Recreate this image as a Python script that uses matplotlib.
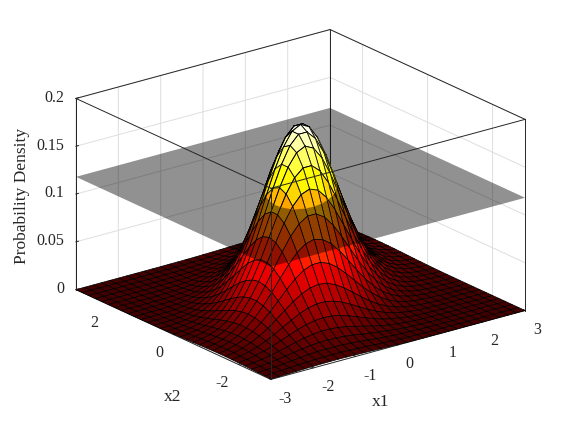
import numpy as np
import matplotlib
matplotlib.use("Agg")
import matplotlib.pyplot as plt
from matplotlib.colors import Normalize
from mpl_toolkits.mplot3d.art3d import Poly3DCollection

plt.rcParams["font.family"] = ["Liberation Serif", "DejaVu Serif"]
plt.rcParams["axes.unicode_minus"] = False

# ---------------------------
# Data
# ---------------------------
x1_grid = [-3, -2.8, -2.6, -2.4, -2.2, -2, -1.8, -1.6, -1.4, -1.2, -1, -0.8, -0.6, -0.4, -0.2, 0,
           0.2, 0.4, 0.6, 0.8, 1, 1.2, 1.4, 1.6, 1.8, 2, 2.2, 2.4, 2.6, 2.8, 3]
x2_grid = list(x1_grid)

# heights for x1 = -3 ... 0 (rows), x2 = -3 ... 3 (columns); the other half is the point mirror
density_half = [
    [.0005, .0007, .0009, .0012, .0015, .0017, .0019, .0020, .0020, .0019, .0017, .0015, .0012, .0009, .0007, .0005, .0003, .0002, .0001, .0001, 0, 0, 0, 0, 0, 0, 0, 0, 0, 0, 0],
    [.0007, .0010, .0014, .0019, .0024, .0029, .0033, .0036, .0036, .0036, .0033, .0029, .0024, .0019, .0014, .0010, .0007, .0004, .0003, .0001, .0001, 0, 0, 0, 0, 0, 0, 0, 0, 0, 0],
    [.0009, .0014, .0020, .0028, .0036, .0045, .0053, .0059, .0062, .0062, .0059, .0053, .0045, .0036, .0028, .0020, .0014, .0009, .0006, .0003, .0002, .0001, 0, 0, 0, 0, 0, 0, 0, 0, 0],
    [.0012, .0019, .0028, .0040, .0053, .0067, .0081, .0093, .0100, .0103, .0100, .0093, .0081, .0067, .0053, .0040, .0028, .0019, .0012, .0007, .0004, .0002, .0001, .0001, 0, 0, 0, 0, 0, 0, 0],
    [.0015, .0024, .0036, .0053, .0073, .0095, .0118, .0138, .0154, .0162, .0162, .0154, .0138, .0118, .0095, .0073, .0053, .0036, .0024, .0015, .0009, .0005, .0003, .0001, .0001, 0, 0, 0, 0, 0, 0],
    [.0017, .0029, .0045, .0067, .0095, .0128, .0162, .0196, .0224, .0242, .0249, .0242, .0224, .0196, .0162, .0128, .0095, .0067, .0045, .0029, .0017, .0010, .0005, .0003, .0001, .0001, 0, 0, 0, 0, 0],
    [.0019, .0033, .0053, .0081, .0118, .0162, .0212, .0262, .0308, .0343, .0361, .0361, .0343, .0308, .0262, .0212, .0162, .0118, .0081, .0053, .0033, .0019, .0011, .0006, .0003, .0001, .0001, 0, 0, 0, 0],
    [.0020, .0036, .0059, .0093, .0138, .0196, .0262, .0334, .0402, .0459, .0497, .0511, .0497, .0459, .0402, .0334, .0262, .0196, .0138, .0093, .0059, .0036, .0020, .0011, .0006, .0003, .0001, .0001, 0, 0, 0],
    [.0020, .0036, .0062, .0100, .0154, .0224, .0308, .0402, .0497, .0584, .0650, .0685, .0685, .0650, .0584, .0497, .0402, .0308, .0224, .0154, .0100, .0062, .0036, .0020, .0011, .0005, .0003, .0001, 0, 0, 0],
    [.0019, .0036, .0062, .0103, .0162, .0242, .0343, .0459, .0584, .0704, .0804, .0871, .0895, .0871, .0804, .0704, .0584, .0459, .0343, .0242, .0162, .0103, .0062, .0036, .0019, .0010, .0005, .0002, .0001, 0, 0],
    [.0017, .0033, .0059, .0100, .0162, .0249, .0361, .0497, .0650, .0804, .0944, .1050, .1107, .1107, .1050, .0944, .0804, .0650, .0497, .0361, .0249, .0162, .0100, .0059, .0033, .0017, .0009, .0004, .0002, .0001, 0],
    [.0015, .0029, .0053, .0093, .0154, .0242, .0361, .0511, .0685, .0871, .1050, .1200, .1300, .1335, .1300, .1200, .1050, .0871, .0685, .0511, .0361, .0242, .0154, .0093, .0053, .0029, .0015, .0007, .0003, .0001, .0001],
    [.0012, .0024, .0045, .0081, .0138, .0224, .0343, .0497, .0685, .0895, .1107, .1300, .1446, .1525, .1525, .1446, .1300, .1107, .0895, .0685, .0497, .0343, .0224, .0138, .0081, .0045, .0024, .0012, .0006, .0003, .0001],
    [.0009, .0019, .0036, .0067, .0118, .0196, .0308, .0459, .0650, .0871, .1107, .1335, .1525, .1652, .1697, .1652, .1525, .1335, .1107, .0871, .0650, .0459, .0308, .0196, .0118, .0067, .0036, .0019, .0009, .0004, .0002],
    [.0007, .0014, .0028, .0053, .0095, .0162, .0262, .0402, .0584, .0804, .1050, .1300, .1525, .1697, .1790, .1790, .1697, .1525, .1300, .1050, .0804, .0584, .0402, .0262, .0162, .0095, .0053, .0028, .0014, .0007, .0003],
    [.0005, .0010, .0020, .0040, .0073, .0128, .0212, .0334, .0497, .0704, .0944, .1200, .1446, .1652, .1790, .1838, .1790, .1652, .1446, .1200, .0944, .0704, .0497, .0334, .0212, .0128, .0073, .0040, .0020, .0010, .0005],
]
plane_level = 0.118

x1_ticks = [-3, -2, -1, 0, 1, 2, 3]
x2_ticks = [-2, 0, 2]
z_ticks = [0, 0.05, 0.1, 0.15, 0.2]
z_tick_labels = ["0", "0.05", "0.1", "0.15", "0.2"]

half = np.array(density_half)
density = np.vstack([half, half[-2::-1, ::-1]])
X1, X2 = np.meshgrid(x1_grid, x2_grid, indexing="ij")

dark = "#262626"
grid_color = "#dedede"
elev, azim = 20.7, 232.5
z_top = 0.2
z_ratio = 0.638

# colores por celda: como en surf, cada celda toma el valor de su primer vertice
norm = Normalize(vmin=-0.018, vmax=density.max())
cmap = plt.get_cmap("hot")
face_colors = cmap(norm(density))

# ---------------------------
# Figure and axes
# ---------------------------
fig = plt.figure(figsize=(5.8, 4.28), dpi=100)
# los ejes son mayores que la figura para que nada quede recortado
ax = fig.add_axes([-7.6 / 580, -84.6 / 428, 600 / 580, 600 / 428], projection="3d",
                  proj_type="ortho", computed_zorder=False)
ax.view_init(elev=elev, azim=azim)
ax.set_box_aspect((1, 1, z_ratio), zoom=0.804)

for axis in (ax.xaxis, ax.yaxis, ax.zaxis):
    axis.set_pane_color((1, 1, 1, 1))
    axis.pane.set_edgecolor("white")
    axis.line.set_color(dark)
    axis.line.set_linewidth(0.7)
    axis._axinfo["grid"].update(color=grid_color, linewidth=0.7)
    axis._axinfo["tick"].update(inward_factor=0.0, outward_factor=0.12, linewidth={True: 0.7, False: 0.5})

# aristas traseras de la caja, debajo de la superficie
for xs, ys, zs in [([-3, 3], [3, 3], [z_top, z_top]),
                   ([3, 3], [-3, 3], [z_top, z_top]),
                   ([3, 3], [3, 3], [0, z_top])]:
    ax.plot(xs, ys, zs, color=dark, linewidth=0.7, zorder=1)

# ---------------------------
# 1) whole surface, 2) translucent plane, 3) part above the plane again
# ---------------------------
ax.plot_surface(X1, X2, density, rstride=1, cstride=1, facecolors=face_colors,
                edgecolor="black", linewidth=0.5, shade=False, antialiased=True, zorder=2)

plane = Poly3DCollection([[(-3, -3, plane_level), (3, -3, plane_level),
                           (3, 3, plane_level), (-3, 3, plane_level)]],
                         facecolor=(0, 0, 0, 0.43), edgecolor="none", zorder=3)
ax.add_collection3d(plane)


def cut_point(a, b):
    t = (plane_level - a[2]) / (b[2] - a[2])
    return tuple(np.array(a) + t * (np.array(b) - np.array(a)))


def clip_above(corners):
    out = []
    n = len(corners)
    for i in range(n):
        a, b = corners[i], corners[(i + 1) % n]
        if a[2] >= plane_level:
            out.append(a)
        if (a[2] >= plane_level) != (b[2] >= plane_level):
            out.append(cut_point(a, b))
    return out


az_r, el_r = np.radians(azim), np.radians(elev)
view = np.array([np.cos(el_r) * np.cos(az_r), np.cos(el_r) * np.sin(az_r), np.sin(el_r)])

cells = []
for i in range(density.shape[0] - 1):
    for j in range(density.shape[1] - 1):
        corners = [(X1[a, b], X2[a, b], density[a, b])
                   for a, b in ((i, j), (i + 1, j), (i + 1, j + 1), (i, j + 1))]
        if max(c[2] for c in corners) < plane_level:
            continue
        center = np.mean(corners, axis=0) * np.array([1 / 6, 1 / 6, z_ratio / z_top])
        cells.append((center @ view, corners, face_colors[i, j]))
cells.sort(key=lambda c: c[0])

order = 4.0
for depth, corners, color in cells:
    poly = Poly3DCollection([clip_above(corners)], facecolor=color, edgecolor=color,
                            linewidth=0.1, zorder=order)
    ax.add_collection3d(poly)
    order += 0.001
    for i in range(4):
        a, b = corners[i], corners[(i + 1) % 4]
        if a[2] < plane_level and b[2] < plane_level:
            continue
        if a[2] < plane_level:
            a = cut_point(a, b)
        elif b[2] < plane_level:
            b = cut_point(a, b)
        ax.plot([a[0], b[0]], [a[1], b[1]], [a[2], b[2]], color="black", linewidth=0.6, zorder=order)
    order += 0.001

# aristas delanteras de la caja, encima de todo
for xs, ys, zs in [([-3, 3], [-3, -3], [z_top, z_top]),
                   ([-3, -3], [-3, 3], [z_top, z_top]),
                   ([-3, -3], [-3, -3], [0, z_top]),
                   ([-3, -3], [3, 3], [0, z_top]),
                   ([3, 3], [-3, -3], [0, z_top])]:
    ax.plot(xs, ys, zs, color=dark, linewidth=0.7, zorder=10)

# ---------------------------
# Axes, ticks and labels
# ---------------------------
ax.set_xlim(-3, 3)
ax.set_ylim(-3, 3)
ax.set_zlim(0, z_top)
ax.set_xticks(x1_ticks)
ax.set_yticks(x2_ticks)
ax.set_zticks(z_ticks)
ax.set_zticklabels(z_tick_labels)
ax.tick_params(axis="both", labelsize=11.5, labelcolor=dark, color=dark, pad=1)
ax.tick_params(axis="z", labelsize=11.5, labelcolor=dark, color=dark, pad=-2)
for lab in ax.get_xticklabels():
    lab.set_ha("left")
for lab in ax.get_yticklabels():
    lab.set_ha("right")
for lab in ax.get_zticklabels():
    lab.set_ha("right")
    lab.set_va("center")

fig.text(381 / 580, 1 - 402 / 428, "x1", fontsize=12.5, color=dark, ha="center", va="center")
fig.text(173 / 580, 1 - 397 / 428, "x2", fontsize=12.5, color=dark, ha="center", va="center")
fig.text(22 / 580, 1 - 196 / 428, "Probability Density", fontsize=12.5, color=dark,
         rotation=90, ha="center", va="center")

fig.savefig("out.png", dpi=100)
